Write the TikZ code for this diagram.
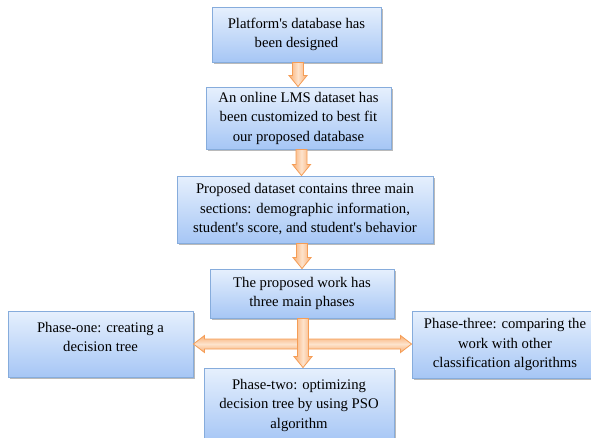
\documentclass[tikz,border=0pt]{standalone}
\usepackage{fontspec}
\setmainfont{Liberation Serif}
\usetikzlibrary{shadows,calc}
\definecolor{boxtop}{HTML}{E6F0FD}
\definecolor{boxbot}{HTML}{A6C6F5}
\definecolor{boxline}{HTML}{86ACDC}
\definecolor{arredge}{HTML}{F9AE72}
\definecolor{arrmid}{HTML}{FDE3CC}
\definecolor{arrline}{HTML}{F59D56}
\tikzset{
  flowbox/.style={draw=boxline, line width=0.9pt, top color=boxtop, bottom color=boxbot,
    inner sep=0pt, align=center, font=\fontsize{14.7}{19.5}\selectfont,
    drop shadow={shadow xshift=1.5pt, shadow yshift=-1.5pt, fill=black!45, opacity=0.6}},
  varrow/.style={draw=arrline, line width=0.8pt, left color=arredge, right color=arredge, middle color=arrmid},
  harrow/.style={draw=arrline, line width=0.8pt, top color=arredge, bottom color=arredge, middle color=arrmid},
}
\newcommand{\downblock}[2]{%
  \path[varrow] let \p1=(#1), \p2=(#2) in
    (\x1-5.5pt,\y1) -- (\x1+5.5pt,\y1) -- (\x1+5.5pt,\y2+11pt) -- (\x1+9pt,\y2+11pt)
    -- (\x1,\y2) -- (\x1-9pt,\y2+11pt) -- (\x1-5.5pt,\y2+11pt) -- cycle;}
\begin{document}
\begin{tikzpicture}[x=1pt,y=-1pt]
\useasboundingbox (0,0) rectangle (591,437);
\node[flowbox, minimum width=169pt, minimum height=55pt] (b1) at (296.5,34.5)
  {Platform\textquotesingle s database has\\been designed};
\node[flowbox, minimum width=185pt, minimum height=62pt] (b2) at (298.5,118)
  {An online LMS dataset has\\been customized to best fit\\our proposed database};
\node[flowbox, minimum width=256pt, minimum height=67pt] (b3) at (305,209.5)
  {Proposed dataset contains three main\\sections: demographic information,\\student\textquotesingle s score, and student\textquotesingle s behavior};
\node[flowbox, minimum width=184pt, minimum height=49pt] (b4) at (302,293.5)
  {The proposed work has\\three main phases};
\node[flowbox, minimum width=185pt, minimum height=66pt] (p1) at (100.5,344)
  {Phase-one: creating a\\decision tree\\[-5pt]};
\node[flowbox, minimum width=186pt, minimum height=67pt] (p3) at (505,344.5)
  {Phase-three: comparing the\\work with other\\classification algorithms};
\node[flowbox, minimum width=190pt, minimum height=74pt] (p2) at (299,405)
  {Phase-two: optimizing\\decision tree by using PSO\\algorithm};
% arrow anchor coordinates
\coordinate (a1s) at ($(b1.south)+(1.5,0)$);
\coordinate (a1e) at ($(b2.north)+(-0.5,0)$);
\coordinate (a2s) at ($(b2.south)+(3,0)$);
\coordinate (a2e) at ($(b3.north)+(-3,0)$);
\coordinate (a3s) at ($(b3.south)+(-3,0)$);
\coordinate (a3e) at ($(b4.north)+(0,0)$);
\coordinate (a4s) at ($(b4.south)+(1,0)$);
\coordinate (a4e) at ($(p2.north)+(4,0)$);
\downblock{a1s}{a1e}
\downblock{a2s}{a2e}
\downblock{a3s}{a3e}
% double horizontal arrow
\path[harrow] let \p1=(p1.east), \p2=(p3.west) in
  (\x1,\y1) -- (\x1+11pt,\y1+8.5pt) -- (\x1+11pt,\y1+5pt) -- (\x2-11pt,\y1+5pt)
  -- (\x2-11pt,\y1+8.5pt) -- (\x2,\y1) -- (\x2-11pt,\y1-8.5pt) -- (\x2-11pt,\y1-5pt)
  -- (\x1+11pt,\y1-5pt) -- (\x1+11pt,\y1-8.5pt) -- cycle;
\downblock{a4s}{a4e}
\end{tikzpicture}
\end{document}
